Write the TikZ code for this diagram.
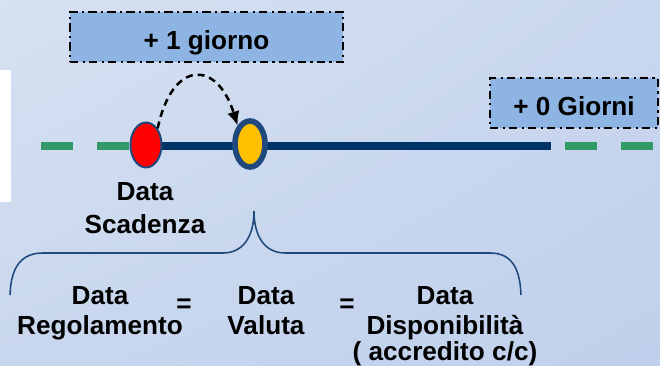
\documentclass[tikz,border=0pt]{standalone}
\usepackage{fontspec}
\setmainfont{Liberation Sans}
\usetikzlibrary{shapes,shadings,arrows.meta,positioning}
\definecolor{bgtop}{RGB}{214,225,241}
\definecolor{bgbot}{RGB}{192,208,236}
\definecolor{boxblue}{RGB}{142,180,227}
\definecolor{navy}{RGB}{0,51,102}
\definecolor{rimblue}{RGB}{31,73,125}
\definecolor{dashgreen}{RGB}{51,153,102}
\definecolor{gold}{RGB}{255,192,0}

\begin{document}
\begin{tikzpicture}[x=0.025cm,y=0.025cm,
    every node/.style={font=\fontsize{18.6}{21.3}\selectfont\bfseries},
    daybox/.style={draw=black,fill=boxblue,line width=1.4pt,
        dash pattern=on 6pt off 3pt on 1.5pt off 3pt,
        minimum height=1.25cm,inner sep=0pt,text height=18pt,text depth=0pt},
    datedot/.style={ellipse,draw=rimblue,inner sep=0pt},
    label/.style={align=center,anchor=north,inner sep=0pt},
    jump/.style={black,line width=1.8pt,dash pattern=on 5pt off 3.5pt,
        -{Latex[length=10pt,width=9pt]}}]
    \useasboundingbox (0,0) rectangle (660,366);

    % Background
    \shade[upper left=bgtop,upper right=bgbot!60!bgtop,
        lower left=bgbot!60!bgtop,lower right=bgbot] (0,0) rectangle (660,366);
    \fill[white] (0,164) rectangle (11,296);

    % Time line
    \draw[navy,line width=5pt] (130,220) -- (551,220);
    \foreach \a in {41,97,565,621}
        \draw[dashgreen,line width=5.5pt] (\a,220) -- ++(32,0);

    % Boxes
    \node[daybox,minimum width=6.825cm] (giorno) at (206.5,329) {+ 1 giorno};
    \node[daybox,minimum width=4.2cm] (giorni) at (574,263) {+ 0 Giorni};

    % Dates
    \node[datedot,fill=red,line width=1.4pt,minimum width=0.775cm,minimum height=1.125cm]
        (datascad) at (146,221) {};
    \node[datedot,fill=gold,line width=4pt,minimum width=0.75cm,minimum height=1.15cm]
        (datavaluta) at (250,222) {};
    \draw[jump] (datascad.55) .. controls +(15,70) and +(-20,65) .. (datavaluta.124);

    \node[label,font=\fontsize{18.6}{23.5}\selectfont\bfseries] (scad) at (145,184)
        {Data\\Scadenza};

    % Brace
    \draw[rimblue,line width=1.1pt] (10,71) .. controls (11,100) and (22,113) .. (43,113)
        -- (223,113) .. controls (242,113) and (254,128) .. (254,155)
        .. controls (254,128) and (266,113) .. (285,113)
        -- (490,113) .. controls (510,113) and (520,100) .. (521,71);

    % Equal dates
    \node[label] (regol) at (100,79.5) {Data\\Regolamento};
    \node[label,anchor=base] (eq1) at (184,53) {=};
    \node[label] (valuta) at (266,79.5) {Data\\Valuta};
    \node[label,anchor=base] (eq2) at (347,53) {=};
    \node[label] (dispon) at (445,79.5) {Data\\Disponibilità\\[-3pt]( accredito c/c)};
\end{tikzpicture}
\end{document}
